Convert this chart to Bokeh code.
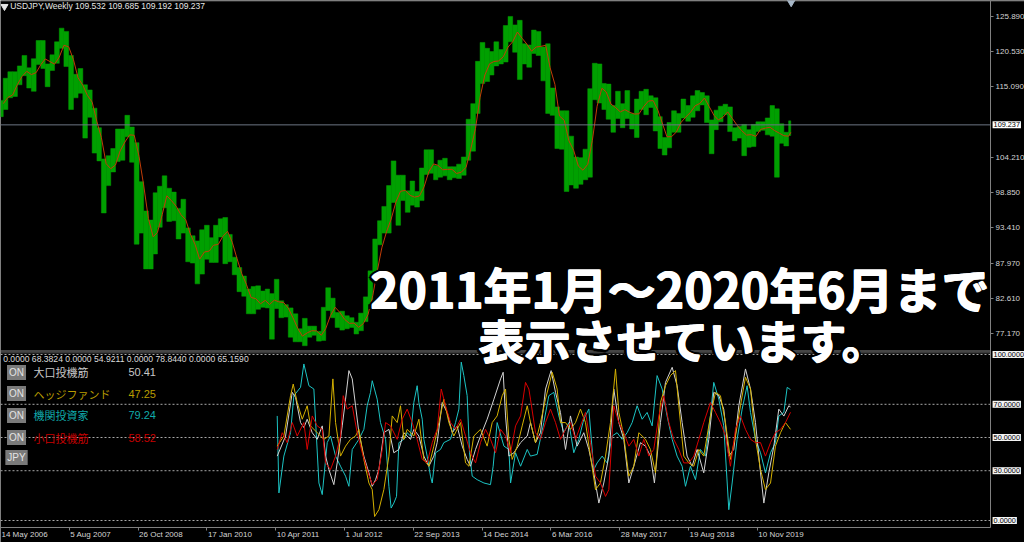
import pandas as pd
from datetime import date, timedelta
from bokeh.plotting import figure
from bokeh.models import (Range1d, FixedTicker, PrintfTickFormatter, Label, ColumnDataSource,
                          LinearAxis)
from bokeh.embed import file_html
from bokeh.resources import INLINE

# ---------------- data ----------------
first_month = "2006-05"
price_high = [
    113.0, 116.4, 117.4, 117.4, 118.3, 119.9, 118.0, 119.4,
    122.2, 122.2, 118.6, 120.0, 122.0, 124.1, 123.6, 119.9, 117.0, 117.9, 115.4, 114.6,
    111.8, 108.8, 104.0, 104.5, 105.6, 108.6, 108.6, 110.7, 108.9, 106.5, 100.5, 96.0,
    94.6, 98.8, 99.8, 101.4, 99.5, 98.9, 96.4, 97.8, 93.4, 92.2, 91.4, 93.1,
    93.8, 91.9, 93.8, 94.8, 95.0, 92.4, 88.9, 87.3, 86.0, 84.0, 84.4, 84.5,
    83.7, 84.0, 83.3, 85.5, 82.2, 81.6, 81.1, 80.2, 77.9, 79.5, 78.3, 78.3,
    77.5, 81.2, 84.2, 82.6, 80.4, 80.6, 79.9, 79.6, 78.9, 80.3, 82.8, 86.8,
    91.7, 94.5, 96.7, 99.9, 103.7, 101.5, 101.5, 99.1, 100.6, 99.0, 102.6, 105.4,
    105.4, 103.0, 103.8, 104.1, 102.8, 102.8, 103.2, 104.3, 110.1, 112.5, 119.0, 121.9,
    121.0, 120.5, 122.0, 120.8, 124.5, 125.9, 124.6, 125.3, 121.7, 121.5, 123.8, 123.6,
    121.2, 121.7, 114.9, 112.0, 111.4, 111.4, 107.5, 104.3, 104.2, 105.5, 114.8, 118.7,
    118.6, 115.6, 115.5, 112.2, 114.4, 112.5, 114.5, 111.0, 113.2, 114.4, 114.7, 113.7,
    113.4, 110.5, 107.3, 109.6, 111.4, 111.0, 113.2, 112.2, 113.7, 114.5, 114.2, 113.7,
    110.0, 111.5, 112.1, 112.4, 112.0, 108.8, 109.0, 109.3, 108.5, 109.3, 109.7, 109.7,
    110.3, 112.2, 111.7, 109.4, 108.1, 109.85,
]
price_low = [
    110.5, 111.6, 113.4, 113.6, 115.4, 116.8, 114.9, 114.4,
    118.5, 117.9, 115.1, 117.6, 118.7, 121.0, 118.2, 111.6, 113.4, 114.1, 107.2, 110.4,
    104.9, 103.7, 95.7, 99.9, 102.0, 103.6, 103.8, 107.4, 103.5, 90.9, 92.6, 87.1,
    87.1, 89.4, 93.5, 96.5, 94.4, 94.5, 91.7, 92.6, 88.2, 88.0, 84.8, 86.3,
    88.6, 88.1, 88.1, 92.0, 87.9, 88.2, 86.2, 83.6, 82.9, 80.2, 80.2, 80.9,
    81.2, 81.1, 76.3, 81.0, 79.6, 79.7, 76.6, 75.9, 75.9, 75.3, 76.6, 76.9,
    76.0, 76.1, 80.7, 79.6, 78.1, 77.7, 77.9, 78.1, 77.1, 77.6, 79.0, 81.7,
    86.5, 90.8, 92.6, 92.6, 97.3, 93.8, 97.6, 95.8, 96.9, 96.6, 97.6, 101.6,
    101.8, 100.8, 101.2, 101.4, 100.8, 101.1, 101.0, 101.5, 103.8, 105.2, 111.0, 115.6,
    115.9, 116.9, 118.3, 118.6, 118.9, 122.0, 120.4, 116.2, 118.6, 118.1, 120.2, 119.9,
    116.0, 111.0, 110.7, 105.6, 105.5, 99.0, 100.0, 99.5, 100.1, 100.8, 101.2, 113.1,
    112.6, 111.6, 110.1, 108.1, 110.2, 108.8, 110.2, 108.6, 107.3, 111.6, 110.8, 111.9,
    108.3, 105.6, 104.6, 105.7, 108.1, 108.1, 110.3, 109.8, 110.4, 111.4, 112.3, 109.6,
    104.8, 108.5, 109.7, 110.8, 108.2, 106.8, 107.2, 104.5, 105.8, 105.9, 108.2, 108.4,
    107.7, 107.5, 101.2, 106.4, 106.0, 107.6,
]
price_close = [
    112.5, 114.4, 114.6, 117.3, 118.1, 117.0, 115.8, 119.0,
    120.7, 118.4, 117.8, 119.5, 121.7, 123.2, 118.8, 115.8, 114.8, 115.4, 111.1, 111.7,
    106.3, 103.8, 99.7, 104.0, 105.5, 106.2, 108.1, 108.8, 106.0, 98.4, 95.6, 90.6,
    89.9, 97.6, 98.8, 98.6, 95.3, 96.3, 94.7, 93.0, 89.7, 89.9, 86.2, 93.0,
    90.3, 88.9, 93.4, 94.0, 91.2, 88.4, 86.5, 84.2, 83.5, 80.4, 83.7, 81.1,
    82.0, 81.8, 83.1, 81.2, 81.5, 80.5, 76.7, 76.6, 77.0, 78.2, 77.6, 76.9,
    76.2, 80.7, 82.9, 80.0, 78.3, 79.8, 78.1, 78.4, 77.9, 79.8, 82.5, 86.7,
    91.7, 92.6, 94.2, 97.5, 100.5, 99.1, 97.9, 98.2, 98.3, 98.4, 102.4, 105.3,
    102.0, 101.8, 103.2, 102.2, 101.8, 101.3, 102.8, 104.1, 109.6, 112.3, 118.6, 119.8,
    117.5, 119.6, 120.1, 119.4, 124.1, 122.5, 123.9, 121.2, 119.9, 120.6, 123.1, 120.2,
    121.1, 112.7, 112.6, 106.5, 110.7, 103.2, 102.1, 103.4, 101.3, 104.8, 114.5, 117.0,
    113.1, 112.8, 111.4, 111.5, 110.8, 112.4, 110.3, 110.0, 112.5, 113.7, 112.5, 112.7,
    109.2, 106.7, 106.3, 109.3, 108.8, 110.7, 111.8, 111.0, 113.7, 112.9, 113.5, 109.7,
    108.9, 111.4, 110.9, 111.4, 108.3, 107.9, 108.8, 106.3, 108.1, 108.0, 109.5, 108.7,
    108.4, 108.0, 107.5, 107.2, 107.8, 109.24,
]
last_price = 109.237
header_text = "USDJPY,Weekly  109.532 109.685 109.192 109.237"
price_ticks = [125.89, 120.53, 115.09, 104.21, 98.85, 93.41, 87.97, 82.61, 77.17]

# x axis: weeks since 14 May 2006
date_ticks = [0, 64, 128, 192, 256, 320, 384, 448, 512, 576, 640, 704]
date_labels = ["14 May 2006", "5 Aug 2007", "26 Oct 2008", "17 Jan 2010", "10 Apr 2011",
               "1 Jul 2012", "22 Sep 2013", "14 Dec 2014", "6 Mar 2016", "28 May 2017",
               "19 Aug 2018", "10 Nov 2019"]

# COT-style index (week number, value)
large_spec = [(257.4,38.8),(265.2,50.9),(271.4,77.2),(274.5,74.1),(279.1,59.0),(282.2,56.0),(285.3,61.0),(290.0,52.9),(294.6,48.9),(299.3,57.0),(302.4,38.8),(305.5,30.7),(310.1,21.6),(313.2,34.7),(317.9,57.0),(321.0,73.1),(324.1,90.3),(327.2,85.3),(330.3,69.1),(333.4,52.9),(338.0,38.8),(342.7,28.7),(345.8,20.6),(348.9,24.6),(352.0,30.7),(356.6,52.9),(361.3,54.9),(365.9,40.8),(370.6,42.8),(375.2,52.9),(381.4,48.9),(384.5,54.9),(389.2,50.9),(393.8,38.8),(398.5,32.7),(403.1,38.8),(406.2,46.9),(410.9,71.1),(415.5,65.1),(420.2,52.9),(424.8,56.8),(429.5,44.8),(434.1,36.8),(437.2,32.7),(441.9,42.8),(446.5,50.9),(452.7,61.0),(459.0,73.1),(465.2,85.3),(467.6,89.3),(469.8,63.0),(472.9,38.8),(477.6,40.8),(483.8,46.9),(490.0,50.9),
              (493.0,59.0),(497.7,46.9),(502.3,52.9),(507.0,79.2),(512.2,90.3),(516.3,77.2),(520.9,65.1),(525.6,42.8),(530.2,63.0),(536.4,44.8),(542.6,52.9),(547.3,42.8),(551.9,28.7),(556.6,10.5),(561.2,22.6),(565.9,38.8),(570.5,79.2),(575.2,59.0),(579.8,48.9),(584.5,22.6),(589.1,32.7),(595.3,46.9),(600.0,44.8),(604.6,38.8),(608.3,22.6),(613.9,59.0),(618.6,83.2),(624.8,92.3),(629.4,81.2),(634.1,59.0),(638.7,38.8),(643.4,32.7),(648.0,42.8),(654.2,28.7),(658.9,48.9),(663.5,77.2),(668.2,75.2),(672.8,67.1),(677.5,38.8),(682.1,42.8),(686.8,69.1),(693.0,91.3),(697.7,79.2),(702.3,59.0),(707.0,28.7),(710.1,10.5),(714.7,28.7),(719.4,44.8),(724.0,67.1),(728.7,62.9),(733.3,69.1),(734.9,68.4)]
hedge_fund = [(257.4,44.8),(263.6,50.9),(269.8,75.2),(272.3,82.2),(276.0,71.1),(280.7,61.0),(285.3,69.1),(288.4,57.0),(294.6,52.9),(300.8,48.9),(305.5,50.9),(309.2,85.3),(311.7,59.0),(316.3,38.8),(321.0,44.8),(325.6,48.9),(330.3,50.9),(333.4,54.9),(338.0,36.8),(342.7,22.6),(345.8,18.6),(348.0,2.4),(352.0,6.5),(356.6,18.6),(361.3,38.8),(364.4,63.0),(369.0,59.0),(372.1,69.1),(375.2,48.9),(378.3,54.9),(384.5,50.9),(389.2,61.0),(393.8,36.8),(398.5,32.7),(403.1,44.8),(407.8,59.0),(412.4,73.1),(417.1,59.0),(421.7,50.9),(428.0,59.0),(432.6,34.7),(435.7,32.7),(440.3,50.9),(446.5,54.9),(452.7,44.8),(457.4,59.0),(462.0,63.0),(466.7,75.2),(469.8,79.2),(472.9,48.9),(476.0,36.8),(480.7,44.8),(485.3,57.0),(490.0,69.1),
              (493.0,59.0),(497.7,46.9),(502.3,59.0),(507.0,73.1),(513.2,89.3),(517.8,79.2),(520.9,59.0),(525.6,59.0),(530.2,54.9),(534.9,59.0),(539.5,67.1),(544.2,59.0),(548.8,38.8),(553.5,18.6),(558.1,22.6),(562.8,38.8),(567.4,59.0),(572.1,91.3),(575.2,65.1),(579.8,50.9),(584.5,26.7),(589.1,32.7),(593.8,52.9),(600.0,48.9),(604.6,42.8),(609.3,28.7),(613.9,71.1),(618.6,81.2),(623.2,87.3),(627.9,90.3),(631.0,69.1),(635.6,38.8),(640.3,34.7),(644.9,32.7),(649.6,42.8),(654.2,38.8),(660.4,63.0),(665.1,77.2),(669.7,75.2),(674.4,59.0),(679.0,36.8),(683.7,50.9),(688.3,69.1),(693.0,86.3),(697.7,79.2),(702.3,48.9),(707.0,30.7),(711.6,18.6),(716.3,22.6),(720.9,44.8),(725.6,52.9),(730.2,59.0),(734.9,54.9)]
institutional = [(257.4,63.0),(259.0,16.6),(263.6,38.8),(269.8,52.9),(272.9,75.2),(279.1,80.2),(282.2,94.3),(286.9,81.2),(291.5,79.2),(296.2,22.6),(299.3,15.6),(303.9,46.9),(307.0,50.9),(311.7,38.8),(316.3,32.7),(321.0,26.7),(324.1,20.6),(327.2,42.8),(333.4,48.9),(338.0,54.9),(341.1,69.1),(344.2,77.2),(345.8,84.2),(350.4,73.1),(353.5,59.0),(358.2,48.9),(361.3,20.6),(363.4,7.5),(365.9,10.5),(368.4,14.5),(370.6,46.9),(375.2,48.9),(378.3,52.9),(381.4,50.9),(384.5,71.1),(387.6,81.2),(389.2,71.1),(392.3,61.0),(393.8,48.9),(396.9,38.8),(400.0,26.7),(401.6,22.6),(404.7,40.8),(409.3,42.8),(412.4,46.9),(418.6,48.9),(423.3,59.0),(426.4,67.1),(428.6,95.4),(431.0,87.3),(434.1,75.2),(436.3,40.8),(438.8,26.7),(443.4,24.6),(449.7,22.6),(455.8,21.6),(458.3,32.7),(462.0,59.0),(468.3,44.8),(472.9,42.8),(474.5,22.6),(479.1,40.8),(483.8,32.7),(490.0,42.8),
                 (493.0,38.8),(499.2,39.8),(505.4,59.0),(510.1,75.2),(514.7,77.2),(519.4,63.0),(524.0,52.9),(528.7,59.0),(533.3,40.8),(538.0,48.9),(542.6,61.0),(547.3,67.1),(551.9,30.7),(555.0,34.7),(559.7,38.8),(564.3,34.7),(569.0,50.9),(573.6,52.9),(578.3,48.9),(582.9,52.9),(587.6,59.0),(592.2,69.1),(596.9,61.0),(601.5,65.1),(606.2,57.0),(610.8,87.3),(615.5,79.2),(620.1,63.0),(624.8,48.9),(629.4,38.8),(634.1,32.7),(637.2,20.6),(641.8,32.7),(646.5,24.6),(651.1,42.8),(655.8,38.8),(660.4,63.0),(663.5,83.2),(668.2,73.1),(672.8,57.0),(677.5,6.5),(680.6,22.6),(685.2,48.9),(689.9,67.1),(694.5,81.2),(697.7,65.1),(702.3,48.9),(707.0,40.8),(711.6,28.7),(716.3,40.8),(720.9,46.9),(724.0,63.0),(728.7,65.1),(731.8,80.2),(734.9,78.8)]
small_spec = [(257.4,42.8),(262.1,52.9),(266.7,46.9),(271.4,59.0),(276.0,50.9),(282.2,59.0),(285.3,42.8),(290.0,63.0),(294.6,57.0),(299.3,54.9),(302.4,34.7),(307.0,30.7),(311.7,38.8),(316.3,50.9),(318.8,75.2),(322.5,67.1),(327.2,69.1),(331.8,52.9),(336.5,40.8),(341.1,30.7),(345.8,21.6),(350.4,24.6),(355.1,42.8),(358.2,59.0),(362.8,57.0),(369.0,48.9),(373.7,61.0),(378.3,67.1),(383.0,59.0),(387.6,48.9),(392.3,36.8),(396.9,34.7),(401.6,46.9),(406.2,54.9),(410.0,79.2),(414.0,69.1),(418.6,59.0),(423.3,54.9),(428.0,61.0),(432.6,50.9),(437.2,40.8),(441.9,34.7),(446.5,46.9),(451.2,54.9),(455.8,48.9),(460.5,40.8),(465.2,54.9),(469.8,50.9),(474.5,40.8),(479.1,57.0),(483.8,63.0),(488.4,83.2),(491.5,79.2),
              (493.0,73.1),(497.7,52.9),(502.3,48.9),(507.0,59.0),(511.6,67.1),(516.3,59.0),(520.9,48.9),(525.6,54.9),(530.2,59.0),(534.9,48.9),(539.5,57.0),(544.2,65.1),(548.8,46.9),(553.5,26.7),(558.1,22.6),(562.8,14.5),(565.9,18.6),(570.5,69.1),(575.2,59.0),(579.8,52.9),(584.5,44.8),(589.1,48.9),(593.8,38.8),(598.4,48.9),(603.1,38.8),(607.7,42.8),(612.4,63.0),(617.0,75.2),(621.7,59.0),(626.3,48.9),(631.0,42.8),(635.6,34.7),(640.3,34.7),(644.9,38.8),(649.6,48.9),(654.2,59.0),(660.4,71.1),(665.1,65.1),(669.7,59.0),(674.4,50.9),(679.0,32.7),(683.7,54.9),(688.3,63.0),(693.0,54.9),(697.7,48.9),(702.3,46.9),(707.0,46.9),(711.6,38.8),(716.3,46.9),(720.9,52.9),(725.6,54.9),(730.2,59.0),(734.9,65.2)]
legend_names = ["大口投機筋", "ヘッジファンド", "機関投資家", "小口投機筋"]
legend_values = ["50.41", "47.25", "79.24", "58.52"]
legend_header = "0.0000 68.3824 0.0000 54.9211 0.0000 78.8440 0.0000 65.1590"
levels = [70, 50, 30, 0]
level_labels = ["100.0000", "70.0000", "50.0000", "30.0000", "0.0000"]

# ---------------- derived geometry ----------------
chart_start = date(2006, 5, 14)
last_bar = date(2020, 6, 8)


def weeks_since(d):
    return (d - chart_start).days / 7.0


n = min(len(price_high), len(price_low), len(price_close))
months = pd.period_range(first_month, periods=n, freq="M")
end_week = weeks_since(last_bar) + 1.0
lefts, rights = [], []
for m in months:
    s = weeks_since(m.start_time.date())
    e = weeks_since(m.end_time.date() + timedelta(days=1))
    lefts.append(max(s, 0.0))
    rights.append(min(e, end_week))
ma = pd.Series(price_close[:n]).rolling(3, min_periods=1).mean().tolist()

candles = ColumnDataSource(dict(left=lefts, right=rights, top=price_high[:n], bottom=price_low[:n]))

BG = "#000000"
FRAME = "#808080"
TXT = "#d4d4d4"
NUMFONT = "Liberation Sans"
JPFONT = "Noto Sans CJK JP"

# whole canvas is the plotting frame; the MT4 scales sit at fixed locations inside it
X_END = 952.56          # canvas right edge (weeks)
X_AXIS = 921.0          # price-scale line (weeks)
P_LO, P_HI = 45.05, 128.35
P_AXIS = 47.36          # time-scale line (price units)
I_LO, I_HI = -13.25, 313.25

p = figure(width=1024, height=542, x_range=Range1d(0, X_END), y_range=Range1d(P_LO, P_HI),
           output_backend="svg", toolbar_location=None, x_axis_location=None, y_axis_location=None,
           background_fill_color=BG, border_fill_color=BG,
           min_border_left=0, min_border_right=0, min_border_top=0, min_border_bottom=0)
p.extra_y_ranges = {"ind": Range1d(I_LO, I_HI)}
p.grid.visible = False
p.outline_line_color = None

# right price axis
ya = LinearAxis(fixed_location=X_AXIS, bounds=(P_AXIS, P_HI))
ya.ticker = FixedTicker(ticks=price_ticks)
ya.formatter = PrintfTickFormatter(format="%.3f")
ya.axis_line_color = FRAME
ya.major_tick_line_color = FRAME
ya.major_tick_out = 3
ya.major_tick_in = 0
ya.minor_tick_line_color = None
ya.major_label_text_color = TXT
ya.major_label_text_font = NUMFONT
ya.major_label_text_font_size = "8px"
ya.major_label_standoff = 2
p.add_layout(ya, "right")

# bottom time axis (ticks; labels drawn left-aligned like MT4)
xa = LinearAxis(fixed_location=P_AXIS, bounds=(0, X_AXIS))
xa.ticker = FixedTicker(ticks=date_ticks)
xa.major_label_overrides = {t: "" for t in date_ticks}
xa.major_label_text_font_size = "1px"
xa.axis_line_color = FRAME
xa.major_tick_line_color = FRAME
xa.major_tick_out = 3
xa.major_tick_in = 0
xa.minor_tick_line_color = None
p.add_layout(xa, "below")

# frame top line & pane separator, level lines (stop at the price scale)
p.segment(x0=[0], x1=[X_END], y0=[128.3], y1=[128.3], line_color=FRAME, line_width=1)
p.segment(x0=[0], x1=[X_AXIS], y0=[102.1], y1=[102.1], y_range_name="ind", line_color="#8a8a8a", line_width=1)
p.segment(x0=[0], x1=[X_AXIS], y0=[101.0], y1=[101.0], y_range_name="ind", line_color="#b0b0b0",
          line_width=1, line_dash="1 1")
p.segment(x0=[0] * 5, x1=[X_AXIS] * 5, y0=[100] + levels, y1=[100] + levels, y_range_name="ind",
          line_color="#a8a8a8", line_width=1, line_dash="2 2")

# price bars and moving average
p.quad(left="left", right="right", top="top", bottom="bottom", source=candles,
       fill_color="#00a000", line_color="#00a000", line_width=0.5)
p.line(rights, ma, line_color="#c03c08", line_width=1)
p.segment(x0=[0], x1=[X_AXIS], y0=[last_price], y1=[last_price], line_color="#6c7684", line_width=1)

# indicator lines
series = [(institutional, "#1cc4c4"), (large_spec, "#d2d2d2"), (hedge_fund, "#d4b000"), (small_spec, "#d80000")]
for data, col in series:
    p.line([w for w, _ in data], [v for _, v in data], y_range_name="ind", line_color=col, line_width=1)

# header
p.scatter([3.7], [127.43], marker="inverted_triangle", size=7, color="#e6e6e6")
p.add_layout(Label(x=9.0, y=127.43, text=header_text, text_color="#e6e6e6", text_font=NUMFONT,
                   text_font_size="8.5px", text_baseline="middle", text_align="left"))
# chart-shift marker at the top
p.scatter([735.5], [128.1], marker="inverted_triangle", size=8, color="#a8b8c8")

# boxed scale labels
BOXFS = "7.3px"
p.add_layout(Label(x=X_AXIS, y=last_price, x_offset=2, text=f"{last_price:.3f}", text_color="#000000",
                   text_font=NUMFONT, text_font_size=BOXFS, text_baseline="middle", text_align="left",
                   background_fill_color="#ffffff", padding=1))
for val, lab in zip([100, 70, 50, 30, 0], level_labels):
    p.add_layout(Label(x=X_AXIS, y=val, y_range_name="ind", x_offset=2, text=lab, text_color="#000000",
                       text_font=NUMFONT, text_font_size=BOXFS, text_baseline="middle", text_align="left",
                       background_fill_color="#f4f4f4", padding=1))

# date labels below the time scale
for t, lab in zip(date_ticks, date_labels):
    p.add_layout(Label(x=t, y=46.28, x_offset=1, text=lab, text_color=TXT, text_font=NUMFONT,
                       text_font_size="8px", text_baseline="middle", text_align="left"))

# indicator legend
p.add_layout(Label(x=2.5, y=97.0, y_range_name="ind", text=legend_header, text_color="#dcdcdc",
                   text_font=NUMFONT, text_font_size="8.6px", text_baseline="middle", text_align="left"))
rows_y = [89.2, 76.5, 63.3, 50.0]
name_cols = ["#c8c8c8", "#b89c00", "#10aaaa", "#c80000"]
val_cols = ["#c8c8c8", "#b89c00", "#10aaaa", "#c80000"]
for yv, name, val, nc, vc in zip(rows_y, legend_names, legend_values, name_cols, val_cols):
    p.add_layout(Label(x=14.9, y=yv, y_range_name="ind", text="ON", text_color="#e4e4e4",
                       text_font=NUMFONT, text_font_size="10px", text_baseline="middle", text_align="center",
                       background_fill_color="#7a7a7a", padding=2))
    p.add_layout(Label(x=30.7, y=yv, y_range_name="ind", text=name, text_color=nc, text_font=JPFONT,
                       text_font_size="11px", text_baseline="middle", text_align="left"))
    p.add_layout(Label(x=119.0, y=yv, y_range_name="ind", text=val, text_color=vc, text_font=NUMFONT,
                       text_font_size="11px", text_baseline="middle", text_align="left"))
p.add_layout(Label(x=14.9, y=38.0, y_range_name="ind", text="JPY", text_color="#e4e4e4",
                   text_font=NUMFONT, text_font_size="10px", text_baseline="middle", text_align="center",
                   background_fill_color="#7a7a7a", padding=2))

# overlay caption: dark outline, then heavy white text
captions = [("2011年1月〜2020年6月まで", 631.5, 84.09, "48px"), ("表示させています。", 634.5, 76.25, "46px")]
outline = [(-3, 0), (3, 0), (0, -3), (0, 3), (-2, -2), (2, 2), (-2, 2), (2, -2), (3, 1), (1, 3)]
heavy = [(0, 0), (1, 0), (0, 1), (1, 1)]
for txt, cx, cy, fs in captions:
    for dx, dy in outline:
        p.add_layout(Label(x=cx, y=cy, x_offset=dx, y_offset=dy, text=txt, text_color="#000000",
                           text_font=JPFONT, text_font_style="bold", text_font_size=fs,
                           text_align="center", text_baseline="middle"))
    for dx, dy in heavy:
        p.add_layout(Label(x=cx, y=cy, x_offset=dx, y_offset=dy, text=txt, text_color="#ffffff",
                           text_font=JPFONT, text_font_style="bold", text_font_size=fs,
                           text_align="center", text_baseline="middle"))

open("out.html", "w").write(file_html(p, INLINE, "USDJPY Weekly"))
